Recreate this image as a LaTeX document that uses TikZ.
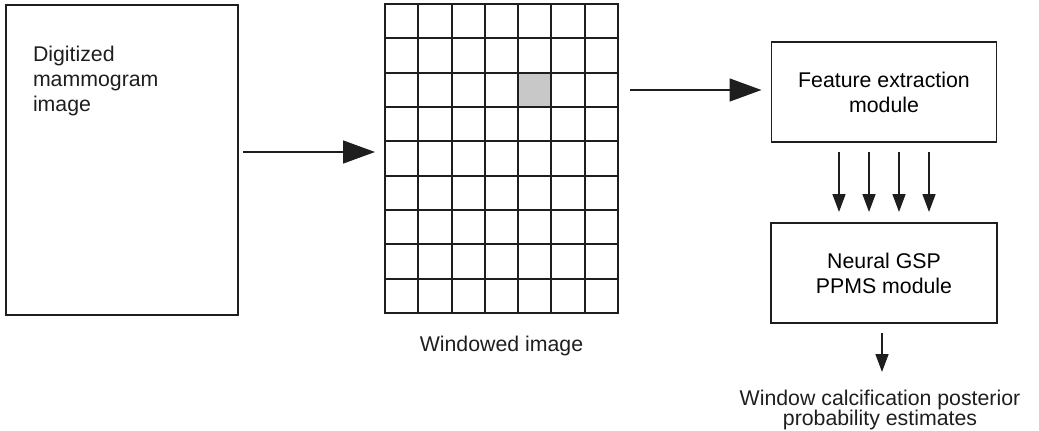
\documentclass[tikz,border=0pt]{standalone}
\usepackage{fontspec}
\setmainfont{Liberation Sans}
\usetikzlibrary{arrows.meta,calc}
\definecolor{ink}{HTML}{1E1E1E}
\definecolor{cellgray}{HTML}{C8C8C8}
\tikzset{
  boxnode/.style={draw=ink, line width=1.7pt, inner sep=0pt, outer sep=0pt, align=center,
    font=\fontsize{21.3}{25}\selectfont},
  txt/.style={inner sep=0pt, outer sep=0pt, text=ink, font=\fontsize{21.3}{25}\selectfont},
  bigarrow/.style={draw=ink, line width=1.5pt, -{Triangle[length=32pt,width=23pt]}},
  smallarrow/.style={draw=ink, line width=1.5pt, -{Triangle[length=18pt,width=13pt]}},
  gridline/.style={draw=ink, line width=1.9pt}
}
\begin{document}
\begin{tikzpicture}[x=1pt,y=-1pt]
\useasboundingbox (0,0) rectangle (1039,431);
% left box
\node[boxnode, minimum width=232pt, minimum height=310pt] (dig) at (122,160) {};
\node[txt, anchor=north west, align=left] (digtxt) at (33,46.5) {Digitized\\mammogram\\image};
% grid
\node[inner sep=0pt, outer sep=0pt, minimum width=233pt, minimum height=309pt] (grid) at (501.5,158.5) {};
\fill[cellgray] ($(grid.north west)+(4*33.286,2*34.333)$) rectangle ($(grid.north west)+(5*33.286,3*34.333)$);
\foreach \i in {1,...,6}
  \draw[gridline] ($(grid.north west)+(\i*33.286,0)$) -- ($(grid.south west)+(\i*33.286,0)$);
\foreach \j in {1,...,8}
  \draw[gridline] ($(grid.north west)+(0,\j*34.333)$) -- ($(grid.north east)+(0,\j*34.333)$);
\draw[gridline] (grid.north west) rectangle (grid.south east);
\node[txt, anchor=north] (wintxt) at ([yshift=-23.5pt]grid.south) {Windowed image};
% right boxes
\node[boxnode, minimum width=225pt, minimum height=100pt] (fe) at (884,92) {Feature extraction\\module};
\node[boxnode, minimum width=226pt, minimum height=100pt] (ng) at (884,273) {Neural GSP\\PPMS module};
\node[txt, anchor=north, align=center, font=\fontsize{21.3}{20}\selectfont] (out) at (880,390.5) {Window calcification posterior\\probability estimates};
% arrows
\draw[bigarrow] ([xshift=5pt,yshift=8pt]dig.east) -- ([xshift=-10pt,yshift=8pt]dig.east -| grid.west);
\draw[bigarrow] ([xshift=12pt,yshift=2pt]grid.east |- fe.west) -- ([xshift=-10pt,yshift=2pt]fe.west);
\foreach \dx in {-45,-15,15,45}
  \draw[smallarrow] ([xshift=\dx pt,yshift=-10pt]fe.south) -- ([xshift=\dx pt,yshift=11pt]ng.north);
\draw[smallarrow] ([xshift=-2pt,yshift=-10pt]ng.south) -- ([xshift=-2pt,yshift=18.5pt]ng.south |- out.north);
\end{tikzpicture}
\end{document}
